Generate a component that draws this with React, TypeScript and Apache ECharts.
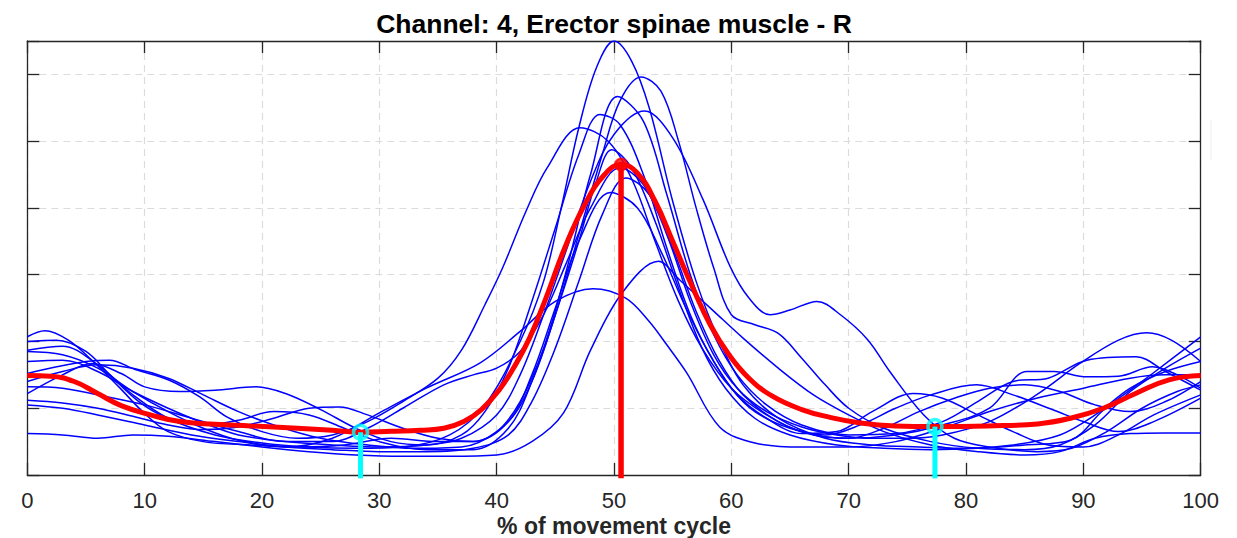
import React, { useEffect, useRef } from "react";
import * as echarts from "echarts";

const titleText = "Channel: 4, Erector spinae muscle - R";
const xAxisTitle = "% of movement cycle";
const xMin = 0;
const xMax = 100;
const xStep = 10;
const yMin = 0;
const yMax = 6.5;
const yStep = 1;

// individual trials (blue)
const trialA = [[0,1.87],[3,1.93],[6,1.65],[9,1.2],[12,0.85],[16,0.6],[20,0.48],[24,0.42],[28,0.4],[32,0.42],[36,0.6],[39,1.05],[42,2.0],[44,2.9],[45.5,4.0],[47,5.2],[48.5,6.1],[50,6.5],[51.5,6.2],[53,5.5],[55,4.1],[57,2.9],[59,2.0],[61,1.35],[64,0.85],[68,0.55],[72,0.45],[76,0.42],[80,0.4],[84,0.45],[88,0.6],[91,0.9],[94,1.3],[97,1.55],[100,1.7]];
const trialB = [[0,1.52],[2.5,1.62],[5,1.7],[7,1.72],[9.2,1.58],[12.1,1.42],[14.7,1.17],[17,0.87],[20,0.65],[23,0.55],[26,0.6],[29,0.8],[32,1.1],[35,1.45],[37,1.87],[39,2.55],[40.5,3.1],[42.5,3.95],[44.3,4.6],[47.1,5.2],[49.5,5.0],[51.6,4.4],[53.5,3.5],[55.5,2.6],[57.5,1.9],[60,1.3],[63,0.9],[66,0.65],[70,0.55],[74,0.6],[78,0.75],[82,1.0],[85.2,1.55],[87.5,1.55],[90.3,1.47],[93,1.48],[95.9,1.62],[98,1.5],[100,1.3]];
const trialC = [[0,2.07],[1.5,2.16],[3.5,2.02],[5.5,1.72],[7.8,1.32],[10,0.92],[12,0.65],[15,0.5],[19,0.45],[23,0.42],[27,0.45],[31,0.55],[35,0.5],[38,0.5],[41,0.8],[43,1.4],[45,2.4],[47,3.6],[49,4.8],[50.5,5.6],[52.3,5.96],[54,5.75],[55.5,5.0],[57,4.0],[58.5,3.1],[60,2.4],[62,2.25],[64,2.12],[66,1.75],[68,1.35],[70,1.0],[73,0.7],[77,0.5],[81,0.4],[85,0.38],[88,0.45],[91,0.75],[94,1.25],[97,1.6],[100,1.9]];
const trialD = [[0,1.4],[3,1.55],[6,1.65],[9,1.6],[12,1.45],[15,1.2],[18,0.95],[21,0.75],[25,0.55],[29,0.45],[33,0.4],[37,0.42],[40,0.65],[42,1.1],[44,1.9],[46,3.1],[48,4.5],[50.3,5.67],[52.5,5.3],[54.5,4.2],[56.5,3.0],[58.5,2.1],[60.5,1.5],[63,1.05],[66,0.75],[70,0.6],[74,0.62],[78,0.8],[81,1.1],[84,1.4],[87,1.45],[90.3,1.72],[94.5,1.77],[97,1.55],[100,1.27]];
const trialE = [[0,1.7],[3,1.72],[6,1.55],[9,1.25],[12,1.0],[15,0.78],[18,0.6],[22,0.5],[26,0.45],[30,0.42],[34,0.45],[37,0.55],[40,0.9],[42,1.5],[44,2.4],[46,3.4],[48,4.4],[50,5.1],[52.6,5.45],[55,5.05],[57.6,4.12],[59.9,3.12],[61.5,2.65],[63.3,2.4],[65,2.47],[67.3,2.6],[69.3,2.4],[71.6,2.03],[73.5,1.55],[76.4,0.9],[79,0.55],[82,0.42],[86,0.35],[89,0.4],[92,0.65],[95,1.0],[98,1.25],[100,1.35]];
const trialF = [[0,1.22],[3,1.5],[5.5,1.67],[8,1.52],[10,1.32],[13,1.25],[16,1.27],[19.5,1.32],[22,1.22],[25,0.98],[28,0.7],[31,0.5],[34,0.45],[37,0.6],[39,0.95],[41,1.6],[43,2.6],[45,3.7],[47,4.8],[48.8,5.4],[50.5,5.25],[52.5,4.5],[54.5,3.4],[56.5,2.4],[58.5,1.7],[60.5,1.2],[63,0.85],[66,0.62],[69,0.65],[72,0.95],[75.5,1.22],[78,1.15],[81,0.9],[84,0.65],[87,0.45],[90,0.42],[93,0.6],[96,0.9],[100,1.2]];
const trialG = [[0,2.0],[2.5,2.02],[5,1.85],[7.2,1.47],[9.5,1.1],[12,0.85],[15,0.75],[18,0.82],[21,0.95],[24,0.9],[27,0.7],[30,0.5],[34,0.38],[38,0.38],[41,0.7],[43,1.4],[45,2.4],[47,3.5],[48.5,4.4],[49.8,4.87],[51.5,4.6],[53.5,3.8],[55.5,2.8],[57.5,1.9],[59.5,1.3],[62,0.85],[65,0.6],[69,0.45],[73,0.4],[77,0.38],[81,0.4],[85,0.45],[88.9,0.52],[91.7,0.97],[95.9,1.52],[100,2.07]];
const trialH = [[0,1.32],[3,1.3],[6,1.2],[10,1.05],[14,0.85],[18,0.65],[22,0.5],[26,0.5],[29,0.7],[32,1.0],[35.5,1.35],[38,1.5],[40,1.6],[42,1.85],[44,2.4],[46,3.2],[48,4.0],[50.5,4.6],[52.5,4.35],[54.5,3.6],[56.5,2.6],[58.5,1.8],[60.5,1.3],[63,0.95],[66,0.72],[69,0.6],[72,0.55],[75,0.55],[78,0.6],[82,0.8],[86,1.2],[89.7,1.67],[93,2.02],[95.4,2.13],[97.5,2.02],[100,1.7]];
const trialI = [[0,1.12],[3,1.08],[6,1.0],[9,0.88],[12,0.75],[15,0.68],[18,0.72],[21,0.85],[24,1.0],[26.6,1.02],[29,0.9],[32,0.7],[35,0.55],[38,0.5],[41,0.8],[43,1.5],[45,2.5],[47,3.5],[49.7,4.23],[52,4.0],[54,3.35],[56,2.55],[58,1.85],[60,1.3],[62,0.95],[65,0.7],[68,0.6],[71,0.75],[74,1.0],[77,1.2],[80.9,1.35],[84,1.2],[87.5,0.97],[90,0.8],[93,0.65],[96,0.8],[100,1.15]];
const trialJ = [[0,1.85],[3,1.8],[6,1.6],[9,1.25],[12,0.95],[15,0.7],[18,0.52],[22,0.42],[26,0.38],[30,0.35],[34,0.35],[38,0.4],[41,0.6],[43,1.1],[45,1.9],[47,2.9],[49,3.9],[51,4.45],[53,4.2],[55,3.4],[57,2.45],[59,1.7],[61,1.2],[64,0.8],[67,0.6],[70,0.55],[73,0.7],[76,0.95],[79,1.15],[82,1.3],[85,1.35],[88,1.25],[91,1.05],[94,0.95],[97,1.1],[100,1.4]];
const trialK = [[0,1.05],[3,1.0],[6,0.9],[10,0.75],[14,0.6],[18,0.5],[22,0.42],[26,0.55],[30,0.93],[34,1.3],[38.6,1.68],[42,2.15],[45,2.6],[48.2,2.79],[51,2.65],[53,2.3],[54.5,1.95],[56.2,1.53],[59,0.72],[62,0.48],[66,0.42],[70,0.42],[74,0.5],[78,0.7],[82,0.95],[86,1.15],[90,1.3],[94,1.45],[97,1.5],[100,1.5]];
const trialL = [[0,0.62],[3,0.6],[6,0.55],[9,0.6],[12,0.58],[16,0.5],[20,0.42],[24,0.35],[28,0.3],[32,0.28],[36,0.28],[40,0.3],[43,0.5],[45.7,0.93],[48,1.87],[50.7,2.73],[53.8,3.2],[55.6,2.92],[58.4,2.47],[61,2.05],[64,1.6],[67,1.2],[70,0.9],[73,0.65],[77,0.45],[81,0.35],[85,0.3],[88,0.35],[91,0.55],[94,0.62],[97,0.63],[100,0.63]];

const trials = [trialA, trialB, trialC, trialD, trialE, trialF, trialG, trialH, trialI, trialJ, trialK, trialL];

// mean curve (red)
const meanCurve = [[0,1.49],[2,1.48],[4,1.4],[6,1.22],[8,1.04],[10.5,0.9],[13,0.8],[16,0.76],[19,0.735],[23,0.7],[26,0.67],[28.4,0.64],[31,0.655],[33.5,0.67],[35.5,0.7],[37.2,0.8],[38.7,0.98],[40.2,1.27],[41.5,1.62],[42.8,2.05],[44.2,2.65],[45.8,3.4],[47.5,4.05],[49.2,4.5],[50.6,4.65],[52,4.52],[53.5,4.1],[55,3.5],[56.6,2.85],[58.2,2.25],[59.8,1.8],[61.5,1.45],[63.5,1.18],[66,0.98],[68.5,0.86],[71,0.78],[74,0.735],[77.3,0.725],[81.8,0.735],[86.1,0.765],[88.9,0.85],[91.7,1.0],[94.5,1.225],[97.3,1.425],[100,1.49]];

// peak marker (red) and event markers (cyan)
const peakX = 50.6;
const peakY = 4.65;
const eventXs = [28.4, 77.35];
const eventYs = [0.64, 0.725];
const stemBase = -0.05;

const FONT = "'Liberation Sans', Arial, Helvetica, sans-serif";
const AXIS_COLOR = "#262626";

export default function App() {
  const ref = useRef<HTMLDivElement>(null);

  useEffect(() => {
    if (!ref.current) return;
    const chart = echarts.init(ref.current, undefined, { renderer: "svg" });

    const grid = { left: 27.3, right: 36.3, top: 41, bottom: 63 };

    const series: any[] = [];
    trials.forEach((t, i) => {
      series.push({
        name: "trial" + (i + 1),
        type: "line",
        data: t,
        smooth: 0.35,
        symbol: "none",
        lineStyle: { color: "#0000ff", width: 1.5 },
        z: 2,
      });
    });
    series.push({
      name: "mean",
      type: "line",
      data: meanCurve,
      smooth: 0.45,
      symbol: "none",
      lineStyle: { color: "#ff0000", width: 5 },
      z: 3,
    });
    series.push({
      name: "peakLine",
      type: "line",
      data: [[peakX, stemBase], [peakX, peakY]],
      symbol: "none",
      clip: false,
      lineStyle: { color: "#ff0000", width: 5.5 },
      z: 4,
    });
    series.push({
      name: "peakMarker",
      type: "scatter",
      data: [[peakX, peakY]],
      symbol: "circle",
      symbolSize: 12,
      itemStyle: { color: "#ff0000", borderColor: "#ff0000", borderWidth: 2 },
      z: 5,
    });
    eventXs.forEach((ex, i) => {
      series.push({
        name: "event" + (i + 1),
        type: "line",
        data: [[ex, stemBase], [ex, eventYs[i]]],
        symbol: "none",
        clip: false,
        lineStyle: { color: "#00ffff", width: 5 },
        z: 6,
      });
    });
    series.push({
      name: "eventMarkers",
      type: "scatter",
      data: eventXs.map((ex, i) => [ex, eventYs[i]]),
      symbol: "circle",
      symbolSize: 14,
      itemStyle: { color: "rgba(0,0,0,0)", borderColor: "#00ffff", borderWidth: 3.5 },
      z: 7,
    });

    const tickStyle = { color: AXIS_COLOR, width: 1.3 };

    chart.setOption({
      animation: false,
      backgroundColor: "#ffffff",
      grid,
      xAxis: [
        {
          type: "value",
          min: xMin,
          max: xMax,
          interval: xStep,
          position: "bottom",
          axisLine: { show: true, onZero: false, lineStyle: tickStyle },
          axisTick: { show: true, inside: true, length: 12, lineStyle: tickStyle },
          axisLabel: { show: true, margin: 14, color: AXIS_COLOR, fontSize: 22, fontFamily: FONT },
          splitLine: { show: true, lineStyle: { color: "#dcdcdc", width: 1.2, type: [7, 5] } },
        },
        {
          type: "value",
          min: xMin,
          max: xMax,
          interval: xStep,
          position: "top",
          axisLine: { show: true, onZero: false, lineStyle: tickStyle },
          axisTick: { show: true, inside: true, length: 12, lineStyle: tickStyle },
          axisLabel: { show: false },
          splitLine: { show: false },
        },
      ],
      yAxis: [
        {
          type: "value",
          min: yMin,
          max: yMax,
          interval: yStep,
          position: "left",
          axisLine: { show: true, onZero: false, lineStyle: tickStyle },
          axisTick: { show: true, inside: true, length: 12, lineStyle: tickStyle },
          axisLabel: { show: false },
          splitLine: { show: true, lineStyle: { color: "#dcdcdc", width: 1.2, type: [7, 5] } },
        },
        {
          type: "value",
          min: yMin,
          max: yMax,
          interval: yStep,
          position: "right",
          axisLine: { show: true, onZero: false, lineStyle: tickStyle },
          axisTick: { show: true, inside: true, length: 12, lineStyle: tickStyle },
          axisLabel: { show: false },
          splitLine: { show: false },
        },
      ],
      graphic: [
        {
          type: "text",
          x: 614,
          y: 24,
          style: {
            text: titleText,
            font: "bold 26.5px " + FONT,
            fill: "#000000",
            align: "center",
            verticalAlign: "middle",
            textAlign: "center",
            textVerticalAlign: "middle",
          },
        },
        {
          type: "text",
          x: 614,
          y: 526,
          style: {
            text: xAxisTitle,
            font: "bold 23px " + FONT,
            fill: AXIS_COLOR,
            align: "center",
            verticalAlign: "middle",
            textAlign: "center",
            textVerticalAlign: "middle",
          },
        },
        {
          type: "line",
          shape: { x1: 1211, y1: 120, x2: 1211, y2: 160 },
          style: { stroke: "#eeeeee", lineWidth: 1 },
        },
      ],
      series,
    });

    return () => {
      chart.dispose();
    };
  }, []);

  return (
    <div
      ref={ref}
      style={{ position: "absolute", left: 0, top: 0, width: 1237, height: 538, background: "#fff" }}
    />
  );
}
